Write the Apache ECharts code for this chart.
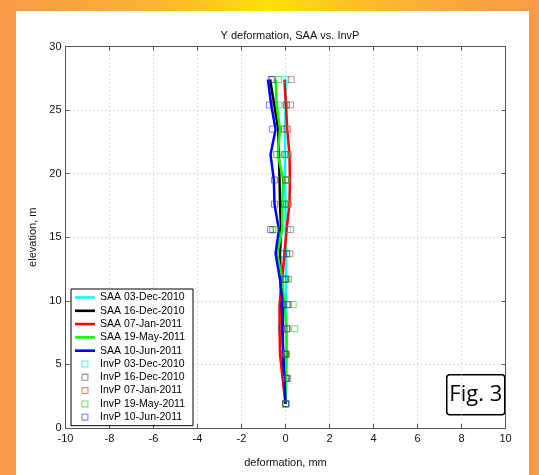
<!DOCTYPE html>
<html><head><meta charset="utf-8">
<script src="https://cdn.jsdelivr.net/npm/echarts@6/dist/echarts.min.js"></script>
<style>
html,body{margin:0;padding:0;}
#frame{position:relative;width:539px;height:475px;background:#F79A48;overflow:hidden;}
#topstrip{position:absolute;left:0;top:0;width:539px;height:11px;background:linear-gradient(to right,#F79A48 0%,#FBB52E 30%,#FFE00A 50%,#FBB52E 72%,#F79A48 100%);}
#panel{position:absolute;left:16px;top:11px;width:513px;height:464px;background:#fff;}
#chart{position:absolute;left:0;top:0;width:539px;height:475px;}
</style></head>
<body><div id="frame"><div id="topstrip"></div><div id="panel"></div><div id="chart"></div></div>
<script>
// elevations (m) of readings, bottom to top
const elevations = [1.9, 3.9, 5.8, 7.8, 9.7, 11.7, 13.7, 15.6, 17.6, 19.5, 21.5, 23.5, 25.4, 27.4];

// SAA deformation (mm)
const saa_03Dec2010 = [0, 0.02, 0.03, 0.03, 0.03, 0.02, 0.02, 0.02, 0, -0.02, -0.02, -0.02, 0, 0.02];
const saa_16Dec2010 = [0, -0.05, -0.1, -0.15, -0.2, -0.22, -0.25, -0.2, -0.25, -0.27, -0.3, -0.33, -0.51, -0.7];
const saa_07Jan2011 = [0, -0.13, -0.25, -0.27, -0.27, -0.15, -0.05, 0.05, 0.18, 0.2, 0.18, 0.08, 0.02, -0.05];
const saa_19May2011 = [0, 0.03, 0.05, 0.05, -0.05, -0.15, -0.38, -0.15, -0.15, -0.1, -0.35, -0.25, -0.4, -0.45];
const saa_10Jun2011 = [0, -0.05, -0.12, -0.12, -0.12, -0.25, -0.45, -0.3, -0.5, -0.53, -0.68, -0.45, -0.65, -0.8];

// InvP deformation (mm)
const invp_03Dec2010 = [0.02, 0.05, 0.02, 0.05, 0.05, 0.0, 0.05, 0.1, 0.05, 0.05, 0.05, 0.05, 0.05, 0.03];
const invp_16Dec2010 = [0, 0.05, 0, 0.05, 0.1, 0.0, 0.05, -0.58, -0.05, 0.0, -0.05, -0.05, 0.03, -0.6];
const invp_07Jan2011 = [0, 0.1, 0.02, 0.08, 0.13, 0.13, 0.2, 0.23, 0.13, 0.1, 0.13, 0.1, 0.23, 0.26];
const invp_19May2011 = [0, 0.05, 0.05, 0.42, 0.35, 0.05, 0.05, -0.47, 0.05, 0.0, 0.0, -0.05, -0.3, -0.32];
const invp_10Jun2011 = [0.03, 0.0, -0.05, -0.17, -0.1, -0.05, -0.1, -0.68, -0.5, -0.5, -0.4, -0.6, -0.73, -0.65];

const saaNames = ['SAA 03-Dec-2010', 'SAA 16-Dec-2010', 'SAA 07-Jan-2011', 'SAA 19-May-2011', 'SAA 10-Jun-2011'];
const invpNames = ['InvP 03-Dec-2010', 'InvP 16-Dec-2010', 'InvP 07-Jan-2011', 'InvP 19-May-2011', 'InvP 10-Jun-2011'];
const saaValues = [saa_03Dec2010, saa_16Dec2010, saa_07Jan2011, saa_19May2011, saa_10Jun2011];
const invpValues = [invp_03Dec2010, invp_16Dec2010, invp_07Jan2011, invp_19May2011, invp_10Jun2011];
const lineColors = ['#00FFFF', '#000000', '#FF0000', '#00FF00', '#0000FF'];
const markColors = ['rgba(0,220,230,0.75)', 'rgba(60,60,60,0.7)', 'rgba(220,40,40,0.7)', 'rgba(0,200,0,0.7)', 'rgba(30,30,230,0.7)'];

const xTicks = [-10, -8, -6, -4, -2, 0, 2, 4, 6, 8, 10];
const yTicks = [0, 5, 10, 15, 20, 25, 30];

const FONT = '"Liberation Sans", Arial, sans-serif';
const chart = echarts.init(document.getElementById('chart'), null, {renderer: 'canvas'});

const series = [];
saaValues.forEach((vals, i) => {
  series.push({
    name: saaNames[i], type: 'line', xAxisIndex: 0, yAxisIndex: 0,
    data: vals.map((v, k) => [v, elevations[k]]),
    showSymbol: false, symbol: 'none', animation: false,
    lineStyle: {color: lineColors[i], width: 2.5},
    itemStyle: {color: lineColors[i]}, z: 2
  });
});
invpValues.forEach((vals, i) => {
  series.push({
    name: invpNames[i], type: 'scatter', xAxisIndex: 0, yAxisIndex: 0,
    data: vals.map((v, k) => [v, elevations[k]]),
    symbol: 'rect', symbolSize: 6, animation: false,
    itemStyle: {color: 'rgba(0,0,0,0)', borderColor: markColors[i], borderWidth: 1}, z: 3
  });
});

const lineIcon = 'path://M0,0H20V2.6H0Z';
const sqIcon = 'path://M0,0H10V10H0ZM1.6,1.6V8.4H8.4V1.6Z';
const legendData = [];
saaNames.forEach((n, i) => legendData.push({name: n, icon: lineIcon, itemStyle: {color: lineColors[i], borderWidth: 0}}));
invpNames.forEach((n, i) => legendData.push({name: n, icon: sqIcon, itemStyle: {color: markColors[i], borderWidth: 0}}));

const axisLine = {show: true, onZero: false, lineStyle: {color: '#555', width: 1}};
const tick = {show: true, inside: true, length: 4, lineStyle: {color: '#555'}};
chart.setOption({
  backgroundColor: 'transparent',
  animation: false,
  title: {
    text: 'Y deformation, SAA vs. InvP', left: 285, top: 25, textAlign: 'center',
    textStyle: {fontFamily: FONT, fontSize: 11, fontWeight: 'normal', color: '#111'}
  },
  grid: {left: 65.5, right: 33.5, top: 46.5, bottom: 47, containLabel: false},
  xAxis: [{
    type: 'value', min: xTicks[0], max: xTicks[xTicks.length - 1], interval: 2,
    name: 'deformation, mm', nameLocation: 'middle', nameGap: 29,
    nameTextStyle: {fontFamily: FONT, fontSize: 11, color: '#111'},
    axisLine: axisLine, axisTick: tick,
    axisLabel: {fontFamily: FONT, fontSize: 11, color: '#111', margin: 5},
    splitLine: {show: true, lineStyle: {color: '#b8b8b8', type: [1, 3], width: 1}}
  }, {
    type: 'value', position: 'top', min: xTicks[0], max: xTicks[xTicks.length - 1], interval: 2,
    axisLine: axisLine, axisTick: tick,
    axisLabel: {show: false}, splitLine: {show: false}
  }],
  yAxis: [{
    type: 'value', min: yTicks[0], max: yTicks[yTicks.length - 1], interval: 5,
    name: 'elevation, m', nameLocation: 'middle', nameGap: 21, nameRotate: 90,
    nameTextStyle: {fontFamily: FONT, fontSize: 11, color: '#111'},
    axisLine: axisLine, axisTick: tick,
    axisLabel: {fontFamily: FONT, fontSize: 11, color: '#111', margin: 4},
    splitLine: {show: true, lineStyle: {color: '#b8b8b8', type: [1, 3], width: 1}}
  }, {
    type: 'value', position: 'right', min: yTicks[0], max: yTicks[yTicks.length - 1], interval: 5,
    axisLine: axisLine, axisTick: tick,
    axisLabel: {show: false}, splitLine: {show: false}
  }],
  legend: {
    orient: 'vertical', left: 71, top: 289,
    padding: [3, 8, 3, 4], itemGap: 2.3, itemWidth: 20, itemHeight: 7,
    backgroundColor: '#fff', borderColor: '#000', borderWidth: 1,
    textStyle: {fontFamily: FONT, fontSize: 10.5, color: '#000'},
    data: legendData, selectedMode: false
  },
  graphic: [{
    type: 'group', left: 446, top: 374, z: 100,
    children: [
      {type: 'rect', shape: {x: 0, y: 0, width: 58, height: 40, r: 3}, style: {fill: '#fff', stroke: '#000', lineWidth: 1.5}},
      {type: 'text', x: 29, y: 20, style: {text: 'Fig. 3', font: '22px "Open Sans", "Noto Sans", sans-serif', fill: '#000', align: 'center', verticalAlign: 'middle'}}
    ]
  }],
  series: series
});
</script>
</body></html>
